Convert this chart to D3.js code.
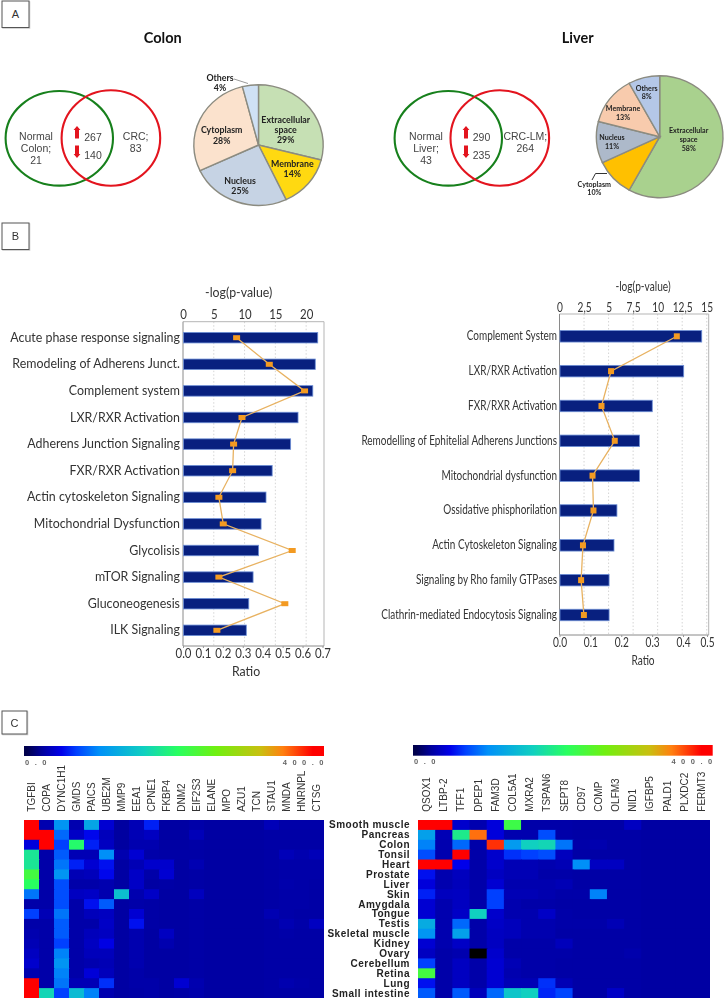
<!DOCTYPE html>
<html><head><meta charset="utf-8">
<script src="https://cdn.jsdelivr.net/npm/d3@7"></script>
<style>
html,body{margin:0;padding:0;background:#fff}
svg{display:block;filter:blur(.35px)}
text{font-family:Lato,sans-serif;fill:#2b2b2b}
.ar{font-family:"Liberation Sans",sans-serif}
</style></head><body>
<svg id="c" width="725" height="1000"></svg>
<script>
// ---------- Panel A ----------
const pieColonNames=[["Extracellular","space"],["Membrane"],["Nucleus"],["Cytoplasm"],["Others"]];
const pieColonValues=[29,14,25,28,4];
const pieColonColors=["#c6e0b4","#ffd911","#c6d3e4","#fbe2cd","#cfe1f5"];
const pieLiverNames=[["Extracellular","space"],["Cytoplasm"],["Nucleus"],["Membrane"],["Others"]];
const pieLiverValues=[58,10,11,13,8];
const pieLiverColors=["#a9d18e","#ffc000","#adb9ca","#f8cbad","#b4c7e7"];
// ---------- Panel B ----------
const colonPathways=["Acute phase response signaling","Remodeling of Adherens Junct.","Complement system","LXR/RXR Activation","Adherens Junction Signaling","FXR/RXR Activation","Actin cytoskeleton Signaling","Mitochondrial Dysfunction","Glycolisis","mTOR Signaling","Gluconeogenesis","ILK Signaling"];
const colonLogP=[21.8,21.4,21.0,18.6,17.4,14.4,13.4,12.6,12.2,11.3,10.6,10.2];
const colonRatio=[.269,.433,.61,.296,.254,.249,.18,.202,.548,.18,.511,.17];
const liverPathways=["Complement System","LXR/RXR Activation","FXR/RXR Activation","Remodelling of Ephitelial Adherens Junctions","Mitochondrial dysfunction","Ossidative phisphorilation","Actin Cytoskeleton Signaling","Signaling by Rho family GTPases","Clathrin-mediated Endocytosis Signaling"];
const liverLogP=[14.44,12.6,9.4,8.1,8.1,5.8,5.5,5.0,5.0];
const liverRatio=[.38,.167,.136,.179,.107,.110,.076,.07,.079];
const colonLogTicks=[0,5,10,15,20];
const colonRatioTicks=[0,.1,.2,.3,.4,.5,.6,.7];
const liverLogTicks=[0,2.5,5,7.5,10,12.5,15];
const liverRatioTicks=[0,.1,.2,.3,.4,.5];
// ---------- Panel C ----------
const tissues=["Smooth muscle","Pancreas","Colon","Tonsil","Heart","Prostate","Liver","Skin","Amygdala","Tongue","Testis","Skeletal muscle","Kidney","Ovary","Cerebellum","Retina","Lung","Small intestine"];
const genesColon=["TGFBI","COPA","DYNC1H1","GMDS","PAICS","UBE2M","MMP9","EEA1","CPNE1","FKBP4","DNM2","EIF2S3","ELANE","MPO","AZU1","TCN","STAU1","MNDA","HNRNPL","CTSG"];
const genesLiver=["QSOX1","LTBP-2","TFF1","DPEP1","FAM3D","COL5A1","MXRA2","TSPAN6","SEPT8","CD97","COMP","OLFM3","NID1","IGFBP5","PALD1","PLXDC2","FERMT3"];
const heatColon=[
[400,30,105,30,120,42,25,32,60,26,26,28,26,26,26,26,33,28,28,28],
[400,400,85,38,52,34,25,32,36,26,26,33,26,26,26,26,27,27,27,27],
[45,400,70,200,60,36,25,30,30,26,26,27,26,26,26,26,27,27,27,27],
[180,28,80,32,32,100,30,42,28,27,27,27,26,26,26,26,27,33,30,33],
[180,28,90,60,42,55,26,32,40,40,26,31,26,26,26,26,27,28,28,28],
[225,28,105,32,34,52,26,38,28,42,26,27,26,26,26,26,27,28,28,28],
[205,28,75,28,28,30,26,38,26,27,26,27,26,26,26,26,27,29,28,27],
[90,28,75,36,38,30,145,30,38,26,26,35,26,26,26,26,27,28,28,27],
[28,28,75,28,55,80,26,28,27,26,26,27,26,26,26,26,27,28,28,27],
[70,32,90,28,34,36,26,42,27,26,26,27,26,26,26,26,31,28,27,27],
[28,28,80,28,28,38,26,55,27,26,26,27,26,26,26,26,27,31,28,36],
[30,28,80,28,34,36,26,30,26,36,26,27,26,26,26,26,27,28,27,27],
[32,28,70,28,36,48,26,30,26,30,26,27,26,26,26,26,27,27,27,27],
[36,28,95,28,34,34,26,30,26,26,26,27,26,26,26,26,27,27,27,27],
[40,28,105,28,30,32,26,30,26,26,26,27,26,26,26,26,27,27,27,27],
[30,28,95,28,44,34,26,28,26,26,26,27,26,26,26,26,27,27,27,27],
[400,28,90,32,32,65,26,28,28,26,42,30,26,26,26,26,27,30,28,27],
[400,165,70,140,95,30,26,27,28,26,27,29,26,26,26,26,27,27,27,27]];
const heatLiver=[
[400,400,40,30,45,220,28,28,28,27,27,27,36,26,26,26,26],
[115,32,185,350,45,30,30,75,28,27,27,27,27,26,26,26,26],
[95,30,85,28,370,110,160,165,90,28,30,27,27,26,26,26,26],
[75,30,400,28,40,65,70,75,35,27,27,27,27,26,26,26,26],
[400,400,50,28,40,32,32,30,32,100,36,36,27,26,26,26,26],
[55,30,35,28,36,32,32,28,28,27,27,27,27,26,26,26,26],
[45,30,34,28,42,30,30,30,32,27,27,27,27,26,26,26,26],
[60,35,36,28,70,32,32,30,28,28,95,27,27,26,26,26,26],
[42,30,36,28,70,30,28,28,27,27,27,27,27,26,26,26,26],
[42,30,38,160,40,30,30,38,28,27,27,27,27,26,26,26,26],
[125,30,85,28,38,34,30,30,28,28,28,32,27,26,26,26,26],
[105,30,115,28,36,34,30,30,27,27,27,27,27,26,26,26,26],
[42,30,38,28,36,28,28,28,34,27,27,27,27,26,26,26,26],
[36,28,30,0,40,28,28,28,28,27,27,27,29,26,26,26,26],
[70,28,36,28,42,32,28,28,27,27,27,27,27,26,26,26,26],
[225,28,36,28,42,30,28,28,27,27,27,27,27,26,26,26,26],
[55,28,36,28,42,32,32,65,32,27,27,27,27,26,26,26,26],
[80,28,80,34,85,150,160,62,72,27,27,38,27,26,26,26,26]];
const colorStops=[0,4,25,50,70,100,160,205,256,315,345,385,400];
const colorValues=["#000000","#00004c","#0000a0","#0000ea","#0040ff","#0090f8","#10d0c0","#28ff60","#70f010","#c8c010","#ff8010","#ff0000","#ff0000"];

const svg=d3.select("#c");
const color=d3.scaleLinear().domain(colorStops).range(colorValues);

function txt(g,x,y,s,size,opt={}){
  const t=g.append("text").attr("font-size",size).attr("text-anchor",opt.anchor||"middle").text(s);
  if(opt.cls)t.attr("class",opt.cls);
  if(opt.bold)t.attr("font-weight","bold");
  if(opt.fill)t.style("fill",opt.fill);
  if(opt.ls)t.attr("letter-spacing",opt.ls);
  t.attr("transform",`translate(${x},${y})`+(opt.sx?` scale(${opt.sx},1)`:"")+(opt.rot?` rotate(${opt.rot})`:""));
  return t;
}
function panelBox(x,y,w,h,s){
  svg.append("rect").attr("x",x+.8).attr("y",y+.8).attr("width",w).attr("height",h).attr("fill","none").attr("stroke","#ccc");
  svg.append("rect").attr("x",x).attr("y",y).attr("width",w).attr("height",h).attr("fill","#fff").attr("stroke","#555").attr("stroke-width",1);
  txt(svg,x+w/2,y+h/2+4,s,11,{cls:"ar",fill:"#333"});
}
panelBox(2,1,27,26.5,"A");panelBox(2,223,27,26.5,"B");panelBox(2,711,25,23,"C");

txt(svg,162.7,43,"Colon",14.5,{bold:true,fill:"#111"});
txt(svg,577.7,43,"Liver",14.5,{bold:true,fill:"#111"});

function venn(cg,rg,lx,lLines,rx,rLines,up,down,arrowX,numX){
  const g=svg.append("g");
  g.append("ellipse").attr("cx",cg).attr("cy",138.3).attr("rx",53.7).attr("ry",47.3).attr("fill","none").attr("stroke","#17801c").attr("stroke-width",2.1);
  g.append("ellipse").attr("cx",rg).attr("cy",138).attr("rx",49.3).attr("ry",47.8).attr("fill","none").attr("stroke","#e3141e").attr("stroke-width",2.1);
  lLines.forEach((s,i)=>txt(g,lx,139.5+i*12.4,s,10.5,{cls:"ar",fill:"#444"}));
  rLines.forEach((s,i)=>txt(g,rx,139.5+i*12,s,10.5,{cls:"ar",fill:"#444"}));
  txt(g,numX,140.5,up,10.5,{cls:"ar",fill:"#444"});
  txt(g,numX,158.5,down,10.5,{cls:"ar",fill:"#444"});
  const ar=(y,d)=>`M${arrowX-2},${y-d*6}L${arrowX+2},${y-d*6}L${arrowX+2},${y+d*2.5}L${arrowX+3.4},${y+d*2.5}L${arrowX},${y+d*6.5}L${arrowX-3.4},${y+d*2.5}L${arrowX-2},${y+d*2.5}Z`;
  g.append("path").attr("d",ar(132.5,-1)).attr("fill","#e3141e");
  g.append("path").attr("d",ar(151.5,1)).attr("fill","#e3141e");
}
venn(59.3,110.9,36,["Normal","Colon;","21"],135.7,["CRC;","83"],"267","140",77,93);
venn(448.3,499.8,426,["Normal","Liver;","43"],525.3,["CRC-LM;","264"],"290","235",466,481.5);

function pie(cx,cy,rx,ry,vals,cols,names,places,fs){
  const g=svg.append("g");
  const r=100;
  const arcs=d3.pie().sort(null)(vals);
  const a=d3.arc().innerRadius(0).outerRadius(r);
  const pg=g.append("g").attr("transform",`translate(${cx},${cy}) scale(${rx/r},${ry/r})`);
  pg.selectAll("path").data(arcs).join("path").attr("d",a).attr("fill",(d,i)=>cols[i])
    .attr("stroke","#8b8b80").attr("stroke-width",1.4).attr("vector-effect","non-scaling-stroke");
  names.forEach((n,i)=>{
    const p=places[i];
    n.forEach((s,j)=>txt(g,p[0],p[1]+j*p[2],s,fs,{bold:true,fill:"#222"}));
    txt(g,p[0],p[1]+n.length*p[2],vals[i]+"%",fs,{bold:true,fill:"#222"});
  });
  return g;
}
const g1=pie(258.5,145,64.7,60.3,pieColonValues,pieColonColors,pieColonNames,
  [[285.7,122.5,10.3],[292.3,166.5,10.3],[240,184,10.3],[221.7,133,10.5],[220,80.5,10.3]],8.8);
g1.append("path").attr("d","M234,79L248,83.5").attr("stroke","#999").attr("fill","none");
const g2=pie(659.7,136.7,63.3,61,pieLiverValues,pieLiverColors,pieLiverNames,
  [[688.7,133,9.2],[594.3,186.5,8.7],[612,140,9],[623,110.5,9],[646.7,90.5,8.7]],7.1);
g2.append("path").attr("d","M607,173.5L595.5,173.5L592,180").attr("stroke","#333").attr("fill","none");

function bars(o){
  const g=svg.append("g");
  const top=d3.scaleLinear().domain([0,o.logMax]).range([o.x0,o.x1]);
  const bot=d3.scaleLinear().domain(o.ratioDomain).range(o.ratioRange);
  const y=d3.scalePoint().domain(o.names).range([o.yFirst,o.yLast]);
  g.selectAll("line.grid").data(o.logTicks.filter(d=>d>0)).join("line").attr("class","grid")
    .attr("x1",d=>top(d)).attr("x2",d=>top(d)).attr("y1",o.yTop).attr("y2",o.yBot)
    .attr("stroke","#d5d5d5").attr("stroke-dasharray","1.5 2");
  g.append("path").attr("d",`M${o.x0},${o.yTop}H${o.x1}V${o.yBot}`).attr("fill","none").attr("stroke","#b5b5b5");
  g.append("path").attr("d",`M${o.x0},${o.yTop}V${o.yBot}H${o.x1}`).attr("fill","none").attr("stroke","#8a8a8a");
  g.selectAll("rect.b").data(o.logP).join("rect").attr("class","b")
    .attr("x",o.x0+.5).attr("y",(d,i)=>y(o.names[i])-o.bh/2).attr("width",d=>top(d)-o.x0).attr("height",o.bh)
    .attr("fill","#08207f").attr("stroke","#6d8fd6").attr("stroke-width",.8);
  const line=d3.line().x(d=>bot(d.r)).y(d=>y(d.n));
  const pts=o.ratio.map((r,i)=>({r,n:o.names[i]}));
  g.append("path").attr("d",line(pts)).attr("fill","none").attr("stroke","#e8b261").attr("stroke-width",1.3);
  g.selectAll("rect.m").data(pts).join("rect").attr("class","m")
    .attr("x",d=>bot(d.r)-o.mw/2).attr("y",d=>y(d.n)-o.mh/2).attr("width",o.mw).attr("height",o.mh).attr("fill","#f39a21");
  o.names.forEach(n=>txt(g,o.labelX,y(n)+4,n,o.labelSize,{anchor:"end",sx:o.sx,fill:"#333"}));
  const ta=g.append("g").attr("transform",`translate(0,${o.yTop})`).call(d3.axisTop(top).tickValues(o.logTicks).tickSize(0).tickPadding(o.topPad).tickFormat(o.logFmt));
  const ba=g.append("g").attr("transform",`translate(0,${o.yBot})`).call(d3.axisBottom(bot).tickValues(o.ratioTicks).tickSize(2).tickPadding(o.botPad).tickFormat(d3.format(".1f")));
  [ta,ba].forEach(a=>{a.select(".domain").remove();a.selectAll("line").attr("stroke","#999");
    a.selectAll("text").attr("font-size",o.tickSize).style("font-family","Lato").style("fill","#333").attr("transform",`scale(${o.tickSx},1)`);});
  txt(g,o.titleX,o.titleY,"-log(p-value)",o.titleSize,{sx:o.titleSx,fill:"#333"});
  txt(g,o.titleX2,o.ratioY,"Ratio",o.titleSize,{sx:o.titleSx,fill:"#333"});
}
bars({names:colonPathways,logP:colonLogP,ratio:colonRatio,logMax:22.9,x0:183,x1:324,
 ratioDomain:[0,.7],ratioRange:[183,322.5],yFirst:337.7,yLast:630.3,yTop:321.7,yBot:646,bh:10.5,mw:7,mh:5,
 logTicks:colonLogTicks,ratioTicks:colonRatioTicks,logFmt:d=>d,labelX:180,labelSize:13,sx:.955,tickSx:.88,titleSx:.95,tickSize:13,topPad:3,botPad:1,
 titleX:238.7,titleY:297,titleX2:246,ratioY:676,titleSize:13});
bars({names:liverPathways,logP:liverLogP,ratio:liverRatio,logMax:15.2,x0:559.5,x1:708.7,
 ratioDomain:[0,.4,.5],ratioRange:[559.5,683,707],yFirst:336.3,yLast:615,yTop:314,yBot:635,bh:11.5,mw:6,mh:6,
 logTicks:liverLogTicks,ratioTicks:liverRatioTicks,logFmt:d=>String(d).replace(".",","),labelX:557,labelSize:13.5,sx:.74,tickSx:.78,titleSx:.78,tickSize:13,topPad:2,botPad:1,
 titleX:643,titleY:291,titleX2:643,ratioY:665,titleSize:13});

function colorbar(x0,x1,y0,y1,id){
  const defs=svg.append("defs");
  const lg=defs.append("linearGradient").attr("id",id);
  colorStops.slice(1).forEach((s,i)=>lg.append("stop").attr("offset",s/400).attr("stop-color",colorValues[i+1]));
  svg.append("rect").attr("x",x0).attr("y",y0).attr("width",x1-x0).attr("height",y1-y0).attr("fill",`url(#${id})`);
  txt(svg,x0+1,y1+8.5,"0.0",7.5,{anchor:"start",cls:"ar",bold:true,fill:"#666",ls:5.5});
  txt(svg,x1+5,y1+8.5,"400.0",7.5,{anchor:"end",cls:"ar",bold:true,fill:"#666",ls:5.5});
}
colorbar(24,324,746,756,"cb1");
colorbar(413,712.7,745,755.7,"cb2");

function heat(x0,x1,y0,y1,genes,matrix){
  const x=d3.scaleBand().domain(genes).range([x0,x1]);
  const y=d3.scaleBand().domain(tissues).range([y0,y1]);
  const g=svg.append("g");
  const cells=matrix.flatMap((row,i)=>row.map((v,j)=>({t:tissues[i],g:genes[j],v})));
  g.selectAll("rect").data(cells).join("rect").attr("x",d=>x(d.g)).attr("y",d=>y(d.t))
    .attr("width",d=>x.bandwidth()+(d.g===genes[genes.length-1]?0:1)).attr("height",d=>y.bandwidth()+(d.t===tissues[tissues.length-1]?0:1)).attr("fill",d=>color(d.v));
  genes.forEach(n=>txt(svg,x(n)+x.bandwidth()/2+3.5,811.7,n,10,{anchor:"start",cls:"ar",rot:-90,fill:"#333"}));
  return y;
}
heat(24,324,820,998,genesColon,heatColon);
const yT=heat(418,710,820,998,genesLiver,heatLiver);
tissues.forEach(t=>txt(svg,410,yT(t)+yT.bandwidth()/2+3.5,t,10,{anchor:"end",cls:"ar",bold:true,fill:"#222",ls:.5}));
</script>
</body></html>
